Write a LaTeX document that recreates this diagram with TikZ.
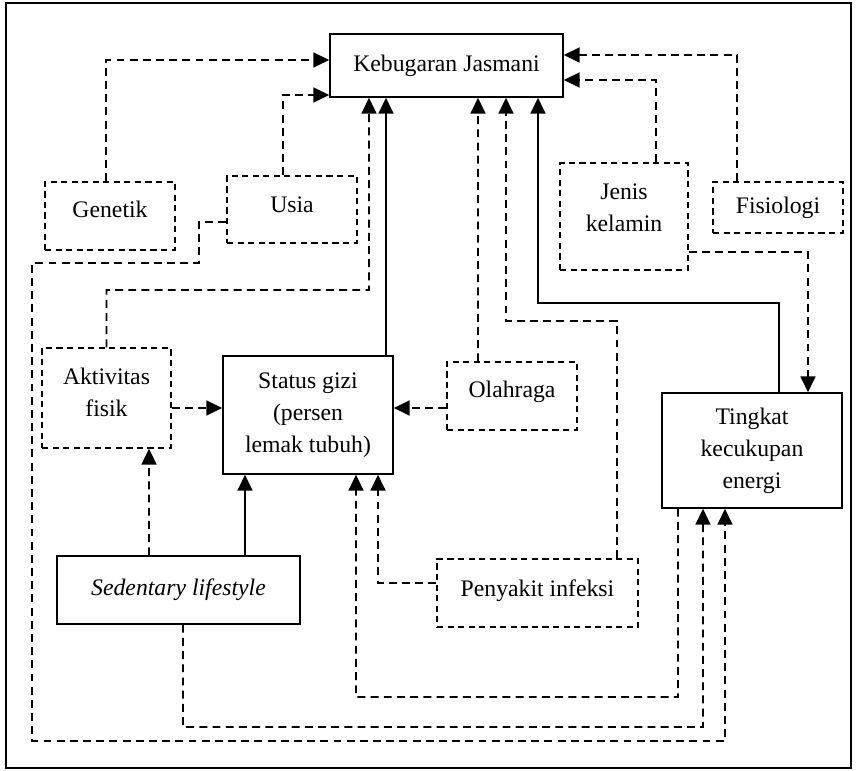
\documentclass[tikz,border=0pt]{standalone}
\usepackage{fontspec}
\setmainfont{Liberation Serif}
\usetikzlibrary{arrows.meta}

\begin{document}
\begin{tikzpicture}[font=\fontsize{13.5}{18.2}\selectfont, >={Triangle[length=9pt,width=8.5pt]},
  solidbox/.style={draw, line width=0.9pt, align=center, inner sep=0pt},
  dashbox/.style={draw, line width=0.8pt, dash pattern=on 3.5pt off 2.5pt, align=center, inner sep=0pt},
  solidlink/.style={->, line width=1pt},
  dashlink/.style={->, line width=1pt, dash pattern=on 4.5pt off 3pt}]
\useasboundingbox (0,0) rectangle (17.16,-15.42);
\draw[line width=1pt] (0.12,-0.06) rectangle (17.02,-15.36);
% boxes
\node[solidbox, minimum width=4.66cm, minimum height=1.26cm] (kj) at (8.93,-1.31) {Kebugaran Jasmani};
\node[dashbox, minimum width=2.6cm, minimum height=1.36cm, text depth=8pt] (gen) at (2.2,-4.32) {Genetik};
\node[dashbox, minimum width=2.6cm, minimum height=1.34cm, text depth=5.7pt] (usia) at (5.84,-4.19) {Usia};
\node[dashbox, minimum width=2.56cm, minimum height=2.14cm, text depth=10pt] (jk) at (12.48,-4.33) {Jenis\\kelamin};
\node[dashbox, minimum width=2.6cm, minimum height=1.02cm] (fis) at (15.56,-4.15) {Fisiologi};
\node[dashbox, minimum width=2.58cm, minimum height=2cm, text depth=6pt] (akt) at (2.13,-7.96) {Aktivitas\\fisik};
\node[solidbox, minimum width=3.4cm, minimum height=2.36cm] (sg) at (6.16,-8.3) {Status gizi\\(persen\\lemak tubuh)};
\node[dashbox, minimum width=2.6cm, minimum height=1.36cm, text depth=7.5pt] (olr) at (10.24,-7.92) {Olahraga};
\node[solidbox, minimum width=3.6cm, minimum height=2.3cm] (tke) at (15.04,-9.01) {Tingkat\\kecukupan\\energi};
\node[solidbox, minimum width=4.86cm, minimum height=1.36cm] (sed) at (3.57,-11.8) {\textit{Sedentary lifestyle}};
\node[dashbox, minimum width=4.02cm, minimum height=1.36cm, text depth=5pt] (pi) at (10.75,-11.86) {Penyakit infeksi};
% into Kebugaran Jasmani
\draw[dashlink] ([xshift=-0.08cm]gen.north) |- ([yshift=0.11cm]kj.west);
\draw[dashlink] ([xshift=-0.18cm]usia.north) |- ([yshift=-0.59cm]kj.west);
\draw[dashlink] (akt.north) |- (7.38,-5.8) -- ([xshift=-1.55cm]kj.south);
\draw[solidlink] ([xshift=1.56cm]sg.north) -- ([xshift=-1.21cm]kj.south);
\draw[dashlink] ([xshift=-0.68cm]olr.north) -- ([xshift=0.63cm]kj.south);
\draw[dashlink] ([xshift=1.59cm]pi.north) |- (10.12,-6.42) -- ([xshift=1.19cm]kj.south);
\draw[solidlink] ([xshift=0.54cm]tke.north) |- (10.76,-6.06) -- ([xshift=1.83cm]kj.south);
\draw[dashlink] ([xshift=0.64cm]jk.north) |- ([yshift=-0.29cm]kj.east);
\draw[dashlink] ([xshift=-0.82cm]fis.north) |- ([yshift=0.21cm]kj.east);
% into Status gizi
\draw[dashlink] ([yshift=-0.2cm]akt.east) -- ([yshift=0.14cm]sg.west);
\draw[dashlink] ([yshift=-0.24cm]olr.west) -- ([yshift=0.14cm]sg.east);
\draw[solidlink] ([xshift=1.33cm]sed.north) -- ([xshift=-1.26cm]sg.south);
\draw[dashlink] ([yshift=0.2cm]pi.west) -| ([xshift=1.4cm]sg.south);
\draw[dashlink] ([xshift=-1.48cm]tke.south) |- (7.12,-13.94) -- ([xshift=0.96cm]sg.south);
% others
\draw[dashlink] ([xshift=-0.59cm]sed.north) -- ([xshift=0.85cm]akt.south);
\draw[dashlink] ([yshift=-0.71cm]jk.east) -| ([xshift=1.12cm]tke.north);
\draw[dashlink] ([xshift=0.09cm]sed.south) |- (14.06,-14.54) -- ([xshift=-0.98cm]tke.south);
\draw[dashlink] ([yshift=-0.25cm]usia.west) -| (3.98,-5.26) -| (0.64,-14.82) -| ([xshift=-0.54cm]tke.south);
\end{tikzpicture}
\end{document}
